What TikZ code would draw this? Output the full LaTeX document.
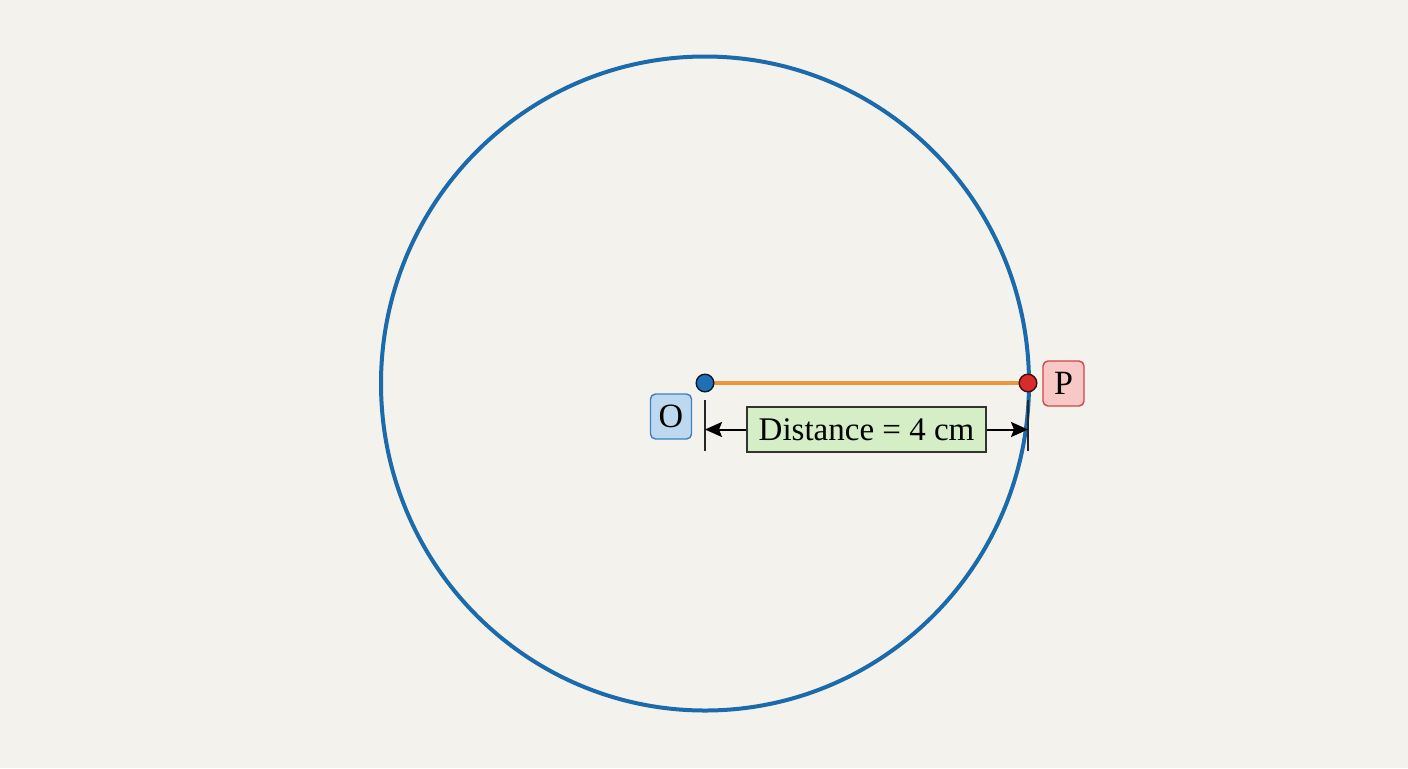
\documentclass[tikz,border=0pt]{standalone}
\usepackage{fontspec}
\setmainfont{Liberation Serif}
\usetikzlibrary{arrows.meta}
\definecolor{paper}{HTML}{F4F2EC}
\definecolor{circblue}{HTML}{1B6AAB}
\definecolor{segorange}{HTML}{EF963C}
\definecolor{oblue}{HTML}{1F6FB5}
\definecolor{ofill}{HTML}{BCD9F0}
\definecolor{oborder}{HTML}{3D7FC2}
\definecolor{pred}{HTML}{D82B2B}
\definecolor{pfill}{HTML}{F7C8C6}
\definecolor{pborder}{HTML}{D04545}
\definecolor{lgreen}{HTML}{D6EEC6}
\tikzset{
  dotnode/.style={circle, inner sep=0pt, minimum size=8.8pt, line width=0.7pt},
  tagbox/.style={rectangle, rounded corners=2.5pt, line width=0.7pt, minimum width=20.5pt, minimum height=22.5pt, inner sep=0pt, font=\fontsize{17}{18}\selectfont},
  dimlabel/.style={rectangle, draw=black!80, fill=lgreen, line width=0.6pt, minimum width=119.5pt, minimum height=22.5pt, inner sep=0pt, font=\fontsize{16.5}{18}\selectfont},
  tickline/.style={line width=1pt, black!85},
  dimarrow/.style={line width=1pt, -{Stealth[length=8.5pt,width=7.5pt,inset=1.5pt]}},
}
\begin{document}
\begin{tikzpicture}[x=0.5pt,y=-0.5pt]
\fill[paper] (0,0) rectangle (1408,768);
\useasboundingbox (0,0) rectangle (1408,768);
% circle
\draw[circblue, line width=2pt] (705,383.5) ellipse [x radius=324, y radius=327];
% segment
\coordinate (Oc) at (705,383);
\coordinate (Pc) at (1028,383);
\draw[segorange, line width=1.6pt] (Oc) -- (Pc);
\node[dotnode, fill=oblue, draw=black!75!oblue] (O) at (Oc) {};
\node[dotnode, fill=pred, draw=black!70!pred] (P) at (Pc) {};
% labels
\node[tagbox, fill=ofill, draw=oborder] (Olab) at (671,416.5) {O};
\node[tagbox, fill=pfill, draw=pborder] (Plab) at (1063.5,383.5) {P};
% dimension
\coordinate (t1a) at (705,400);
\coordinate (t1b) at (705,451);
\coordinate (t2a) at (1028,400);
\coordinate (t2b) at (1028,451);
\draw[tickline] (t1a) -- (t1b);
\draw[tickline] (t2a) -- (t2b);
\node[dimlabel] (D) at (866.5,429.5) {Distance = 4 cm};
\coordinate (aL) at (705,429.5);
\coordinate (aR) at (1028,429.5);
\draw[dimarrow] (D.west) -- (aL);
\draw[dimarrow] (D.east) -- (aR);
\end{tikzpicture}
\end{document}
